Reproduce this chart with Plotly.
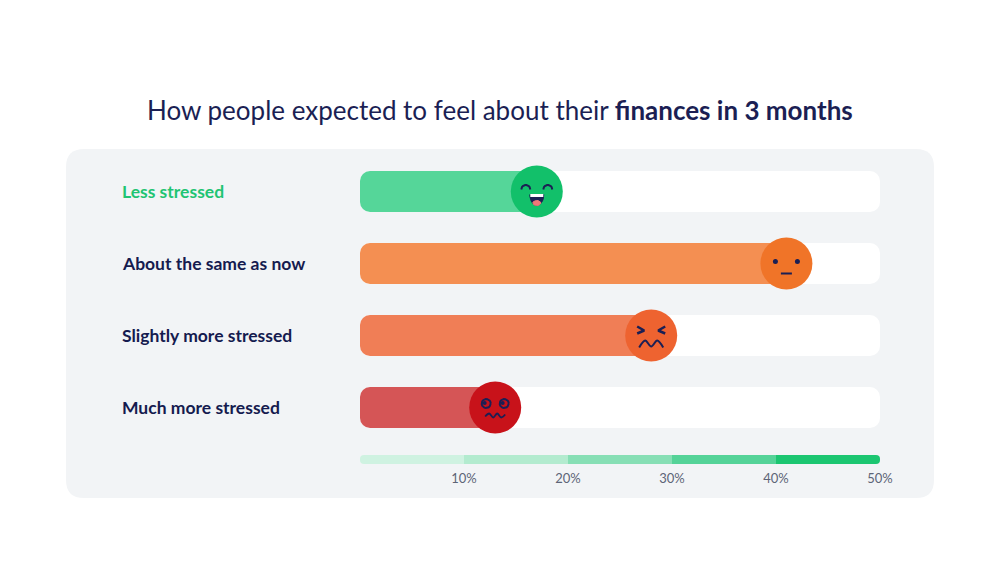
import numpy as np
import plotly.graph_objects as go

# --- data ---
categories = ["Less stressed", "About the same as now", "Slightly more stressed", "Much more stressed"]
values = [17, 41, 28, 13]
bar_colors = ["#55d699", "#f48f52", "#f07e56", "#d55556"]
emoji_colors = ["#12c06a", "#f07428", "#ee6330", "#c8121a"]
label_colors = ["#1fc473", "#151b4f", "#151b4f", "#151b4f"]
faces = ["happy", "neutral", "angry", "dizzy"]

scale_ticks = [10, 20, 30, 40, 50]
scale_labels = ["10%", "20%", "30%", "40%", "50%"]
scale_colors = ["#cff2e1", "#b3ebcf", "#87dfb5", "#55d398", "#1cc671"]

NAVY = "#1b1f54"
W, H = 1000, 563
OFF = 8        # page body margin
PX_X = 10.4    # pixels per percentage point
PX_Y = 72.0    # pixels per row
X0, Y0 = 360 - OFF, 191.5 - OFF   # pixel of 0% / first row


def px_paper(x, y):
    return (x - OFF) / W, 1 - (y - OFF) / H


def rounded_path(x0, y0, x1, y1, r):
    def P(x, y):
        a, b = px_paper(x, y)
        return f"{a:.5f},{b:.5f}"
    return (f"M {P(x0 + r, y0)} L {P(x1 - r, y0)} Q {P(x1, y0)} {P(x1, y0 + r)} "
            f"L {P(x1, y1 - r)} Q {P(x1, y1)} {P(x1 - r, y1)} L {P(x0 + r, y1)} "
            f"Q {P(x0, y1)} {P(x0, y1 - r)} L {P(x0, y0 + r)} Q {P(x0, y0)} {P(x0 + r, y0)} Z")


fig = go.Figure()
rows = list(range(len(categories)))
bar_h = 41 / PX_Y

# white tracks
fig.add_trace(go.Bar(y=rows, x=[50] * len(rows), base=0, orientation="h", width=bar_h,
                     marker=dict(color="white", cornerradius=10, line_width=0),
                     hoverinfo="skip", showlegend=False))
# value bars
fig.add_trace(go.Bar(y=rows, x=values, base=0, orientation="h", width=bar_h,
                     marker=dict(color=bar_colors, cornerradius=10, line_width=0),
                     hovertemplate="%{x}%<extra></extra>", showlegend=False))

# scale bar
scale_row = (459.5 - OFF - Y0) / PX_Y
sh = 9 / PX_Y
starts = [t - 10 for t in scale_ticks]
fig.add_trace(go.Bar(y=[scale_row, scale_row], x=[10, 10], base=[starts[0], starts[-1]],
                     orientation="h", width=sh,
                     marker=dict(color=[scale_colors[0], scale_colors[-1]], cornerradius=4, line_width=0),
                     hoverinfo="skip", showlegend=False))
fig.add_trace(go.Bar(y=[scale_row] * 5, x=[5, 10, 10, 10, 5], base=[5, 10, 20, 30, 40],
                     orientation="h", width=sh,
                     marker=dict(color=scale_colors, line_width=0),
                     hoverinfo="skip", showlegend=False))
fig.add_trace(go.Scatter(x=scale_ticks, y=[scale_row + 20 / PX_Y] * 5, mode="text",
                         text=scale_labels, textfont=dict(family="Lato", size=13, color="#5d6477"),
                         hoverinfo="skip", showlegend=False))

# emoji circles
fig.add_trace(go.Scatter(x=values, y=rows, mode="markers",
                         marker=dict(size=52, color=emoji_colors, line_width=0),
                         hoverinfo="skip", showlegend=False))


def feat(v, r, pts, **kw):
    xs = [v + p[0] / PX_X for p in pts]
    ys = [r + p[1] / PX_Y for p in pts]
    fig.add_trace(go.Scatter(x=xs, y=ys, hoverinfo="skip", showlegend=False, **kw))


def arc(cx, cy, rx, ry, t0, t1, n=12):
    t = np.linspace(t0, t1, n)
    return list(zip(cx + rx * np.cos(t), cy + ry * np.sin(t)))


for v, r, face in zip(values, rows, faces):
    ln = dict(color=NAVY, width=2)
    if face == "happy":
        for ex in (-11, 11):
            feat(v, r, arc(ex, -2, 4.5, 4.5, np.pi, 2 * np.pi), mode="lines", line=ln)
        feat(v, r, arc(0, 3, 7, 11, 0, np.pi, 16), mode="lines", fill="toself",
             fillcolor=NAVY, line=dict(color=NAVY, width=1))
        feat(v, r, arc(0, 11.5, 4, 2.5, 0, 2 * np.pi, 16), mode="lines", fill="toself",
             fillcolor="#f07878", line=dict(color="#f07878", width=1))
        feat(v, r, [(-6.5, 4), (6.5, 4)], mode="lines", line=dict(color="white", width=3))
    elif face == "neutral":
        feat(v, r, [(-11, -2), (11, -2)], mode="markers", marker=dict(size=5, color=NAVY))
        feat(v, r, [(-5.5, 10), (5.5, 10)], mode="lines", line=ln)
    elif face == "angry":
        feat(v, r, [(-14, -9), (-7, -5), (-14, -2)], mode="lines", line=dict(color=NAVY, width=2.5))
        feat(v, r, [(14, -9), (7, -5), (14, -2)], mode="lines", line=dict(color=NAVY, width=2.5))
        feat(v, r, [(-12, 12), (-6, 5), (0, 11), (6, 5), (12, 12)], mode="lines",
             line=dict(color=NAVY, width=2, shape="spline"))
    else:
        for ex in (-9, 9):
            feat(v, r, arc(ex, -4, 4.5, 4.5, 0, 2 * np.pi, 20), mode="lines", line=ln)
            feat(v, r, [(ex - 1.5, -4.5)], mode="markers", marker=dict(size=4, color=NAVY))
        feat(v, r, [(-10, 9), (-6, 6), (-2, 10), (2, 6), (6, 10), (10, 7)], mode="lines",
             line=dict(color=NAVY, width=1.8, shape="spline"))

# labels
annotations = []
for r, (cat, col) in enumerate(zip(categories, label_colors)):
    lx, ly = px_paper(120, 191.5 + r * PX_Y)
    annotations.append(dict(x=lx, y=ly, xref="paper", yref="paper",
                            xanchor="left", yanchor="middle", showarrow=False,
                            text=f"<b>{cat}</b>", font=dict(family="Lato", size=17.5, color=col)))
tx, ty = px_paper(500, 110)
annotations.append(dict(x=tx, y=ty, xref="paper", yref="paper", xanchor="center",
                        yanchor="middle", showarrow=False,
                        text="How people expected to feel about their <b>finances in 3 months</b>",
                        font=dict(family="Lato", size=26, color=NAVY)))

fig.update_layout(
    width=W, height=H,
    margin=dict(l=0, r=0, t=0, b=0),
    paper_bgcolor="white", plot_bgcolor="rgba(0,0,0,0)",
    barmode="overlay",
    xaxis=dict(range=[-X0 / PX_X, (W - X0) / PX_X], visible=False, fixedrange=True),
    yaxis=dict(range=[(H - Y0) / PX_Y, -Y0 / PX_Y], visible=False, fixedrange=True),
    shapes=[dict(type="path", xref="paper", yref="paper", layer="below",
                 path=rounded_path(66, 149, 934, 498, 18), fillcolor="#f2f4f6", line_width=0)],
    annotations=annotations,
)

fig.write_html("out.html")
